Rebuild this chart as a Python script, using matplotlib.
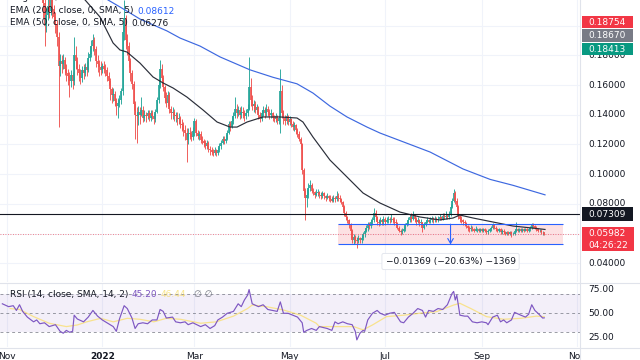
import numpy as np
import pandas as pd
import matplotlib
matplotlib.use("Agg")
import matplotlib.pyplot as plt
from matplotlib.patches import Rectangle

plt.rcParams['font.family'] = ['DejaVu Sans']

# ---------------- data ----------------
start_date = "2021-11-24"
first_open = 0.222
closes = [
    0.215, 0.200, 0.207, 0.213, 0.210, 0.217, 0.211, 0.206, 0.201, 0.192,
    0.173, 0.176, 0.174, 0.177, 0.171, 0.168, 0.166, 0.163, 0.167, 0.163,
    0.180, 0.176, 0.171, 0.168, 0.165, 0.170, 0.168, 0.172, 0.170, 0.178,
    0.181, 0.186, 0.190, 0.184, 0.176, 0.174, 0.172, 0.170, 0.173, 0.171,
    0.170, 0.166, 0.163, 0.157, 0.153, 0.154, 0.149, 0.146, 0.148, 0.150,
    0.156, 0.196, 0.205, 0.190, 0.186, 0.176, 0.168, 0.161, 0.147, 0.140,
    0.139, 0.142, 0.140, 0.143, 0.138, 0.140, 0.139, 0.141, 0.138, 0.141,
    0.139, 0.137, 0.142, 0.150, 0.160, 0.171, 0.165, 0.159, 0.151, 0.148,
    0.153, 0.144, 0.141, 0.142, 0.139, 0.140, 0.137, 0.138, 0.134, 0.133,
    0.130, 0.128, 0.123, 0.128, 0.127, 0.125, 0.129, 0.136, 0.128, 0.126,
    0.127, 0.123, 0.122, 0.121, 0.119, 0.121, 0.117, 0.116, 0.115, 0.114,
    0.116, 0.114, 0.116, 0.119, 0.121, 0.124, 0.122, 0.124, 0.128, 0.134,
    0.132, 0.136, 0.139, 0.144, 0.141, 0.143, 0.140, 0.142, 0.141, 0.139,
    0.141, 0.144, 0.159, 0.150, 0.146, 0.147, 0.143, 0.145, 0.140, 0.137,
    0.141, 0.143, 0.141, 0.144, 0.142, 0.140, 0.141, 0.138, 0.137, 0.139,
    0.136, 0.138, 0.156, 0.141, 0.138, 0.136, 0.139, 0.135, 0.137, 0.134,
    0.132, 0.133, 0.130, 0.127, 0.124, 0.120, 0.103, 0.089, 0.084, 0.086,
    0.091, 0.093, 0.089, 0.088, 0.086, 0.087, 0.088, 0.086, 0.085, 0.087,
    0.085, 0.084, 0.085, 0.084, 0.083, 0.082, 0.084, 0.083, 0.085, 0.084,
    0.083, 0.081, 0.078, 0.074, 0.071, 0.069, 0.066, 0.062, 0.056, 0.058,
    0.056, 0.055, 0.057, 0.056, 0.057, 0.060, 0.062, 0.064, 0.066, 0.065,
    0.068, 0.069, 0.074, 0.071, 0.068, 0.067, 0.069, 0.068, 0.070, 0.068,
    0.069, 0.070, 0.069, 0.070, 0.069, 0.068, 0.067, 0.064, 0.062, 0.061,
    0.062, 0.063, 0.066, 0.067, 0.069, 0.071, 0.070, 0.072, 0.070, 0.068,
    0.069, 0.067, 0.068, 0.064, 0.066, 0.068, 0.069, 0.068, 0.069, 0.070,
    0.069, 0.070, 0.069, 0.070, 0.071, 0.070, 0.072, 0.071, 0.072, 0.071,
    0.073, 0.078, 0.082, 0.087, 0.082, 0.078, 0.072, 0.070, 0.069, 0.068,
    0.067, 0.065, 0.064, 0.063, 0.064, 0.063, 0.062, 0.063, 0.063, 0.062,
    0.063, 0.062, 0.063, 0.062, 0.061, 0.062, 0.063, 0.064, 0.066, 0.064,
    0.063, 0.062, 0.063, 0.061, 0.062, 0.061, 0.060, 0.061, 0.060, 0.061,
    0.060, 0.060, 0.062, 0.063, 0.062, 0.063, 0.062, 0.063, 0.062, 0.063,
    0.062, 0.063, 0.064, 0.066, 0.065, 0.064, 0.063, 0.062, 0.062, 0.061,
    0.061, 0.0598,
]
highs = [
    0.228, 0.218, 0.212, 0.219, 0.218, 0.225, 0.220, 0.214, 0.209, 0.204,
    0.196, 0.181, 0.180, 0.181, 0.179, 0.174, 0.171, 0.169, 0.170, 0.169,
    0.192, 0.186, 0.179, 0.174, 0.171, 0.173, 0.174, 0.175, 0.176, 0.182,
    0.186, 0.190, 0.194, 0.192, 0.186, 0.180, 0.177, 0.176, 0.175, 0.176,
    0.174, 0.172, 0.169, 0.165, 0.159, 0.158, 0.156, 0.151, 0.151, 0.153,
    0.158, 0.202, 0.217, 0.207, 0.194, 0.189, 0.178, 0.170, 0.163, 0.149,
    0.145, 0.146, 0.145, 0.152, 0.146, 0.143, 0.142, 0.143, 0.143, 0.143,
    0.143, 0.141, 0.144, 0.152, 0.164, 0.177, 0.174, 0.167, 0.160, 0.155,
    0.156, 0.155, 0.146, 0.145, 0.144, 0.142, 0.142, 0.141, 0.139, 0.137,
    0.135, 0.133, 0.131, 0.131, 0.132, 0.129, 0.132, 0.138, 0.137, 0.130,
    0.129, 0.129, 0.126, 0.124, 0.123, 0.123, 0.122, 0.119, 0.118, 0.117,
    0.118, 0.117, 0.118, 0.121, 0.123, 0.126, 0.126, 0.127, 0.130, 0.136,
    0.136, 0.139, 0.142, 0.152, 0.147, 0.146, 0.145, 0.146, 0.145, 0.143,
    0.144, 0.147, 0.179, 0.165, 0.153, 0.150, 0.149, 0.147, 0.146, 0.142,
    0.143, 0.146, 0.145, 0.147, 0.146, 0.144, 0.144, 0.142, 0.140, 0.141,
    0.140, 0.140, 0.171, 0.160, 0.143, 0.140, 0.141, 0.140, 0.139, 0.138,
    0.136, 0.135, 0.134, 0.131, 0.129, 0.125, 0.121, 0.104, 0.091, 0.090,
    0.094, 0.096, 0.094, 0.091, 0.089, 0.090, 0.090, 0.089, 0.088, 0.089,
    0.088, 0.086, 0.087, 0.086, 0.086, 0.085, 0.086, 0.085, 0.089, 0.087,
    0.086, 0.084, 0.082, 0.079, 0.075, 0.072, 0.070, 0.067, 0.063, 0.060,
    0.059, 0.058, 0.059, 0.058, 0.059, 0.061, 0.064, 0.066, 0.068, 0.068,
    0.070, 0.071, 0.077, 0.076, 0.072, 0.070, 0.071, 0.070, 0.072, 0.071,
    0.071, 0.072, 0.071, 0.073, 0.071, 0.071, 0.070, 0.068, 0.065, 0.063,
    0.064, 0.065, 0.067, 0.069, 0.071, 0.073, 0.074, 0.075, 0.073, 0.071,
    0.071, 0.070, 0.070, 0.068, 0.068, 0.069, 0.071, 0.070, 0.071, 0.072,
    0.071, 0.072, 0.071, 0.072, 0.073, 0.072, 0.074, 0.074, 0.075, 0.073,
    0.075, 0.080, 0.084, 0.090, 0.089, 0.084, 0.079, 0.073, 0.072, 0.070,
    0.069, 0.068, 0.066, 0.065, 0.066, 0.065, 0.064, 0.065, 0.064, 0.064,
    0.064, 0.064, 0.064, 0.064, 0.063, 0.063, 0.064, 0.065, 0.067, 0.066,
    0.065, 0.064, 0.064, 0.064, 0.063, 0.063, 0.062, 0.062, 0.062, 0.062,
    0.062, 0.061, 0.063, 0.068, 0.064, 0.064, 0.064, 0.064, 0.064, 0.064,
    0.064, 0.064, 0.065, 0.067, 0.067, 0.066, 0.065, 0.064, 0.063, 0.063,
    0.062, 0.0605,
]
lows = [
    0.205, 0.186, 0.196, 0.204, 0.205, 0.207, 0.205, 0.201, 0.195, 0.186,
    0.132, 0.166, 0.168, 0.171, 0.167, 0.163, 0.160, 0.152, 0.159, 0.157,
    0.160, 0.171, 0.167, 0.163, 0.161, 0.162, 0.164, 0.166, 0.166, 0.169,
    0.176, 0.179, 0.183, 0.180, 0.172, 0.169, 0.166, 0.167, 0.168, 0.168,
    0.166, 0.163, 0.160, 0.150, 0.148, 0.149, 0.146, 0.140, 0.138, 0.145,
    0.147, 0.153, 0.190, 0.184, 0.180, 0.172, 0.163, 0.157, 0.143, 0.124,
    0.121, 0.133, 0.134, 0.139, 0.135, 0.136, 0.135, 0.137, 0.136, 0.136,
    0.137, 0.134, 0.135, 0.141, 0.148, 0.158, 0.161, 0.156, 0.148, 0.145,
    0.146, 0.141, 0.137, 0.137, 0.136, 0.135, 0.133, 0.134, 0.131, 0.129,
    0.126, 0.123, 0.108, 0.120, 0.124, 0.122, 0.123, 0.126, 0.126, 0.124,
    0.123, 0.121, 0.120, 0.118, 0.117, 0.117, 0.115, 0.113, 0.113, 0.112,
    0.113, 0.112, 0.113, 0.115, 0.117, 0.120, 0.120, 0.121, 0.123, 0.127,
    0.129, 0.131, 0.134, 0.138, 0.138, 0.139, 0.137, 0.138, 0.138, 0.136,
    0.137, 0.139, 0.143, 0.146, 0.143, 0.142, 0.141, 0.141, 0.137, 0.135,
    0.136, 0.139, 0.138, 0.139, 0.139, 0.137, 0.138, 0.136, 0.135, 0.135,
    0.134, 0.134, 0.128, 0.138, 0.134, 0.133, 0.134, 0.133, 0.133, 0.132,
    0.130, 0.129, 0.127, 0.125, 0.122, 0.117, 0.100, 0.086, 0.069, 0.078,
    0.084, 0.089, 0.087, 0.086, 0.084, 0.085, 0.085, 0.084, 0.083, 0.084,
    0.083, 0.082, 0.083, 0.082, 0.081, 0.081, 0.081, 0.081, 0.082, 0.082,
    0.081, 0.080, 0.076, 0.072, 0.069, 0.067, 0.064, 0.057, 0.054, 0.053,
    0.054, 0.050, 0.054, 0.054, 0.054, 0.056, 0.058, 0.061, 0.062, 0.063,
    0.064, 0.066, 0.068, 0.069, 0.066, 0.065, 0.066, 0.066, 0.066, 0.066,
    0.067, 0.067, 0.067, 0.068, 0.067, 0.066, 0.065, 0.063, 0.061, 0.059,
    0.060, 0.061, 0.062, 0.065, 0.066, 0.068, 0.068, 0.069, 0.068, 0.066,
    0.067, 0.065, 0.066, 0.061, 0.063, 0.065, 0.067, 0.067, 0.067, 0.068,
    0.067, 0.068, 0.068, 0.068, 0.069, 0.069, 0.069, 0.070, 0.070, 0.070,
    0.070, 0.072, 0.077, 0.081, 0.080, 0.076, 0.070, 0.068, 0.067, 0.066,
    0.065, 0.064, 0.062, 0.061, 0.062, 0.062, 0.061, 0.062, 0.061, 0.061,
    0.061, 0.061, 0.061, 0.061, 0.060, 0.060, 0.061, 0.062, 0.063, 0.063,
    0.062, 0.061, 0.061, 0.060, 0.060, 0.060, 0.059, 0.059, 0.059, 0.059,
    0.058, 0.059, 0.059, 0.061, 0.061, 0.061, 0.061, 0.061, 0.061, 0.062,
    0.061, 0.061, 0.062, 0.063, 0.064, 0.063, 0.062, 0.061, 0.061, 0.060,
    0.059, 0.0594,
]

# EMA lines (days since 2022-01-01, value)
ema200_days = [3.7, 14.6, 24.1, 41.4, 49.8, 62.6, 75.4, 94.6, 109.3, 124.7, 134.9,
               145.8, 156.7, 169.5, 177.8, 190.6, 209.9, 231.0, 248.3, 263.0, 283.5]
ema200_vals = [0.2172, 0.2105, 0.2044, 0.1964, 0.1916, 0.1862, 0.1789, 0.1702, 0.1652,
               0.1608, 0.1546, 0.1458, 0.1385, 0.1317, 0.1277, 0.1226, 0.1149, 0.1035,
               0.0965, 0.0925, 0.0861]
ema50_days = [-11.0, -1.5, 6.9, 11.3, 15.8, 24.1, 32.5, 38.9, 45.3, 54.2, 64.5, 73.5,
              81.8, 86.3, 92.7, 102.9, 113.8, 124.7, 128.5, 134.9, 145.8, 156.7, 167.0,
              177.8, 190.6, 203.4, 216.2, 224.6, 229.0, 237.4, 250.2, 263.0, 275.8, 283.5]
ema50_vals = [0.2172, 0.2058, 0.1883, 0.1836, 0.1822, 0.1748, 0.1654, 0.1614, 0.1580,
              0.1519, 0.1432, 0.1351, 0.1317, 0.1317, 0.1351, 0.1385, 0.1385, 0.1378,
              0.1351, 0.1250, 0.1095, 0.0981, 0.0873, 0.0806, 0.0745, 0.0712, 0.0692,
              0.0705, 0.0725, 0.0705, 0.0678, 0.0651, 0.0637, 0.0628]

# RSI (days since 2022-01-01, value)
rsi_days = [-64, -60, -57, -55, -53, -51, -48, -44, -42, -40, -37, -34, -30, -27, -25,
            -23, -21, -19, -18, -16, -12, -9, -6, -3, 0, 3, 7, 9, 11, 14, 16, 19, 21, 23,
            26, 29, 32, 35, 37, 39, 41, 45, 47, 50, 53, 55, 58, 63, 66, 69, 72, 74, 77,
            80, 84, 87, 89, 91, 93, 94, 96, 100, 103, 106, 109, 112, 114, 116, 119, 122,
            125, 128, 129, 131, 134, 137, 139, 144, 147, 149, 151, 154, 157, 160, 162,
            163, 165, 167, 168, 170, 173, 176, 178, 181, 184, 187, 191, 193, 196, 199,
            202, 205, 207, 209, 212, 215, 218, 221, 224, 225, 226, 227, 229, 232, 234,
            237, 240, 243, 246, 247, 250, 253, 255, 257, 259, 262, 264, 268, 271, 273,
            275, 277, 279, 282, 283]
rsi_vals = [60, 57, 58, 53, 59, 52, 46, 41, 43, 39, 40, 36, 38, 31, 29, 32, 30, 31, 48,
            44, 41, 46, 53, 47, 43, 40, 36, 31, 44, 58, 55, 45, 34, 39, 40, 39, 43, 43,
            54, 52, 45, 46, 41, 40, 41, 38, 40, 36, 38, 34, 37, 43, 46, 50, 52, 60, 57,
            64, 69, 75, 60, 57, 59, 54, 53, 52, 62, 50, 50, 48, 46, 40, 30, 32, 34, 32,
            36, 34, 32, 41, 39, 41, 39, 38, 31, 22, 29, 32, 31, 43, 50, 53, 50, 48, 50,
            51, 41, 40, 46, 50, 55, 53, 46, 53, 52, 55, 54, 59, 71, 73, 64, 69, 48, 47,
            47, 41, 40, 41, 40, 38, 46, 48, 41, 43, 40, 43, 51, 48, 46, 49, 59, 53, 50,
            45, 45.2]
rsi_ma_days = [-59, -53, -44, -34, -23, -16, -10, -1, 7, 16, 24, 33, 41, 50, 63, 73, 84,
               93, 96, 105, 116, 127, 137, 139, 150, 161, 167, 173, 182, 193, 203, 214,
               225, 229, 236, 246, 257, 268, 278, 283]
rsi_ma_vals = [55, 54, 46.5, 39.5, 36, 37.7, 41, 44.7, 41, 44.7, 43.7, 41, 44.7, 43.7,
               39.5, 41, 47, 55, 58.7, 57, 53.5, 48, 39.5, 36, 36, 36, 32.5, 37.7, 46.5,
               48, 50, 51.7, 58.7, 60.5, 55, 46.5, 43.7, 44.7, 47, 46.44]

price_ticks = [0.04, 0.06, 0.08, 0.10, 0.12, 0.14, 0.16, 0.18, 0.20]
rsi_ticks = [25, 50, 75]
rsi_levels = [30, 50, 70]
month_ticks = ["2021-11-01", "2022-01-01", "2022-03-01", "2022-05-01",
               "2022-07-01", "2022-09-01", "2022-11-01"]
month_labels = ["Nov", "2022", "Mar", "May", "Jul", "Sep", "Nov"]

hline_price = 0.07309
last_price = 0.05982
countdown = "04:26:22"
range_top = 0.06637
range_bottom = 0.05268
range_start = "2022-06-01"
range_end = "2022-10-23"
scale_labels = [0.18754, 0.18670, 0.18413]
ema200_last = 0.08612
ema50_last = 0.06276
rsi_last = 45.20
rsi_ma_last = 46.44

# ---------------- layout / style ----------------
W, H = 640, 360
PANE_R = 580          # right edge of panes (px)
P_TOP, P_BOT = 0, 282
R_TOP, R_BOT = 283, 347
XLIM = (-65.5, 305.9)
PLIM = (0.02744, 0.21721)
RLIM = (14.5, 81.9)
FS = 6.5
TXT = '#131722'
GRID = '#f0f3fa'
SEP = '#e0e3eb'
UP, DOWN = '#26a69a', '#ef5350'

base = pd.Timestamp("2022-01-01")
def dnum(s):
    return (pd.Timestamp(s) - base).days

fig = plt.figure(figsize=(W / 100, H / 100), dpi=100)
fig.patch.set_facecolor('white')

def rect(l, t, r, b):
    return [l / W, 1 - b / H, (r - l) / W, (b - t) / H]

ax = fig.add_axes(rect(0, P_TOP, PANE_R, P_BOT))
axs = fig.add_axes(rect(PANE_R, P_TOP, W, P_BOT))
axr = fig.add_axes(rect(0, R_TOP, PANE_R, R_BOT))
axrs = fig.add_axes(rect(PANE_R, R_TOP, W, R_BOT))
axd = fig.add_axes(rect(0, R_BOT, PANE_R, H))

for a in (ax, axs, axr, axrs, axd):
    for sp in a.spines.values():
        sp.set_visible(False)
    a.set_xticks([]); a.set_yticks([])
    a.patch.set_alpha(0)

ax.set_xlim(*XLIM); ax.set_ylim(*PLIM)
axs.set_xlim(0, W - PANE_R); axs.set_ylim(*PLIM)
axr.set_xlim(*XLIM); axr.set_ylim(*RLIM)
axrs.set_xlim(0, W - PANE_R); axrs.set_ylim(*RLIM)
axd.set_xlim(*XLIM); axd.set_ylim(0, 1)

mdays = [dnum(m) for m in month_ticks]
for m in mdays:
    ax.axvline(m, color=GRID, lw=0.8, zorder=0)
    axr.axvline(m, color=GRID, lw=0.8, zorder=0)
for p in price_ticks:
    ax.axhline(p, color=GRID, lw=0.8, zorder=0)

# candles
c = np.array(closes)
o = np.concatenate([[first_open], c[:-1]])
h = np.array(highs); l = np.array(lows)
d0 = dnum(start_date)
days = d0 + np.arange(len(c))
cols = np.where(c >= o, UP, DOWN)
ax.vlines(days, l, h, colors=cols, lw=0.65, zorder=3)
ax.vlines(days, np.minimum(o, c), np.maximum(o, c), colors=cols, lw=1.25, zorder=3)

# EMA lines
ax.plot(ema200_days, ema200_vals, color='#3d68e0', lw=0.85, zorder=4)
ax.plot(ema50_days, ema50_vals, color='#2a2e39', lw=0.85, zorder=4)

# horizontal line and last price line
ax.axhline(hline_price, color='#131722', lw=0.8, zorder=5)
ax.axhline(last_price, color='#f23645', lw=0.6, ls=(0, (1, 2)), alpha=0.8, zorder=5)

# price range tool
rs, re = dnum(range_start), dnum(range_end)
ax.add_patch(Rectangle((rs, range_bottom), re - rs, range_top - range_bottom,
                       fc='#f23645', alpha=0.15, ec='none', zorder=2))
ax.hlines([range_top, range_bottom], rs, re, color='#2962ff', lw=0.8, zorder=5)
rmid = (rs + re) / 2
ax.annotate('', xy=(rmid, range_bottom), xytext=(rmid, range_top),
            arrowprops=dict(arrowstyle='->,head_length=0.35,head_width=0.2',
                            color='#2962ff', lw=0.8, shrinkA=0, shrinkB=0), zorder=6)
diff = range_bottom - range_top
pct = diff / range_top * 100
pxu = (PLIM[1] - PLIM[0]) / (P_BOT - P_TOP)   # price per pixel
def py2p(py):
    return PLIM[1] - (py - P_TOP) * pxu
def p2py(p):
    return (PLIM[1] - p) / pxu + P_TOP
lbl = f"\u2212{abs(diff):.5f} (\u2212{abs(pct):.2f}%) \u2212{abs(diff) * 1e5:.0f}"
ax.text(rmid, py2p(261.5), lbl, ha='center', va='center', fontsize=FS, color=TXT, zorder=7,
        bbox=dict(boxstyle='round,pad=0.4,rounding_size=0.2', fc='white', ec='#e0e3eb', lw=0.6))

# price scale: label boxes (stacked like the platform does)
teal_px = p2py(scale_labels[2])
boxes = [
    (teal_px - 27.0, 11.5, f"{scale_labels[0]:.5f}", '#f23645'),
    (teal_px - 13.5, 13.0, f"{scale_labels[1]:.5f}", '#787b86'),
    (teal_px, 12.5, f"{scale_labels[2]:.5f}", '#089981'),
    (p2py(hline_price), 13.5, f"{hline_price:.5f}", '#131722'),
]
lp_px = p2py(last_price)
for ypx, hpx, text, fc in boxes:
    axs.add_patch(Rectangle((1.5, py2p(ypx + hpx / 2)), 51, hpx * pxu, fc=fc, ec='none', zorder=5))
    axs.text(8, py2p(ypx), text, ha='left', va='center', fontsize=FS, color='white', zorder=6)
lp_top, lp_bot = lp_px - 6.5, lp_px + 17.5
axs.add_patch(Rectangle((1.5, py2p(lp_bot)), 52, (lp_bot - lp_top) * pxu, fc='#f23645', ec='none', zorder=5))
axs.text(8, last_price, f"{last_price:.5f}", ha='left', va='center', fontsize=FS, color='white', zorder=6)
axs.text(8, py2p(lp_px + 11.5), countdown, ha='left', va='center', fontsize=FS, color='white', zorder=6)

# tick labels (those fully hidden under a label box are not drawn)
covered = [(y - hh / 2, y + hh / 2) for y, hh, _, _ in boxes] + [(lp_top, lp_bot)]
for p in price_ticks:
    yp = p2py(p)
    if any(a - 1 <= yp - 3 and yp + 3 <= b + 1 for a, b in covered) or yp < 30:
        continue
    axs.text(8, p, f"{p:.5f}", ha='left', va='center', fontsize=FS, color=TXT, zorder=2)

# RSI pane
axr.axhspan(rsi_levels[0], rsi_levels[2], color='#7e57c2', alpha=0.09, lw=0, zorder=1)
for lv in rsi_levels:
    axr.axhline(lv, color='#787b86', lw=0.7, ls=(0, (3, 3)), alpha=0.75, zorder=2)
axr.plot(rsi_ma_days, rsi_ma_vals, color='#fdd835', lw=0.9, alpha=0.55, zorder=3)
axr.plot(rsi_days, rsi_vals, color='#7e57c2', lw=0.85, zorder=4)
for t in rsi_ticks:
    axrs.text(8, t, f"{t:.2f}", ha='left', va='center', fontsize=FS, color=TXT)

# date labels
for m, s in zip(mdays, month_labels):
    axd.text(m, 0.3, s, ha='center', va='center', fontsize=FS, color=TXT,
             fontweight='bold' if s.isdigit() else 'normal', clip_on=True)

# separators
fig.add_artist(plt.Line2D([PANE_R / W, PANE_R / W], [0, 1], transform=fig.transFigure, color=SEP, lw=0.8))
for yy in (282.5, 347.5):
    fig.add_artist(plt.Line2D([0, 1], [1 - yy / H, 1 - yy / H], transform=fig.transFigure, color=SEP, lw=0.8))

# legends
fig.canvas.draw()
rend = fig.canvas.get_renderer()
def put(x, y, s, color, **kw):
    t = fig.text(x / W, 1 - y / H, s, color=color, ha='left', va='center', fontsize=FS, zorder=10, **kw)
    return x + t.get_window_extent(renderer=rend).width

x = put(10, -3.0, "Dogecoin / TetherUS \u00b7 1D \u00b7 BINANCE", TXT)
x = put(x + 6, -3.0, f"O0.06002  H0.06046  L0.05940  C{last_price:.5f}  \u22120.00020 (\u22120.33%)", '#f23645')
x = put(10, 11, "EMA (200, close, 0, SMA, 5)", TXT)
put(x + 4, 11, f"{ema200_last:.5f}", '#2962ff')
x = put(10, 23, "EMA (50, close, 0, SMA, 5)", TXT)
put(x + 4, 23, f"{ema50_last:.5f}", TXT)
x = put(10, 294.5, "RSI (14, close, SMA, 14, 2)", TXT)
x = put(x + 3, 294.5, f"{rsi_last:.2f}", '#7e57c2')
x = put(x + 4, 294.5, f"{rsi_ma_last:.2f}", '#f5d33a', alpha=0.6)
put(x + 8, 294.5, "\u2205 \u2205", '#787b86')

fig.savefig("out.png", dpi=100, facecolor='white')
